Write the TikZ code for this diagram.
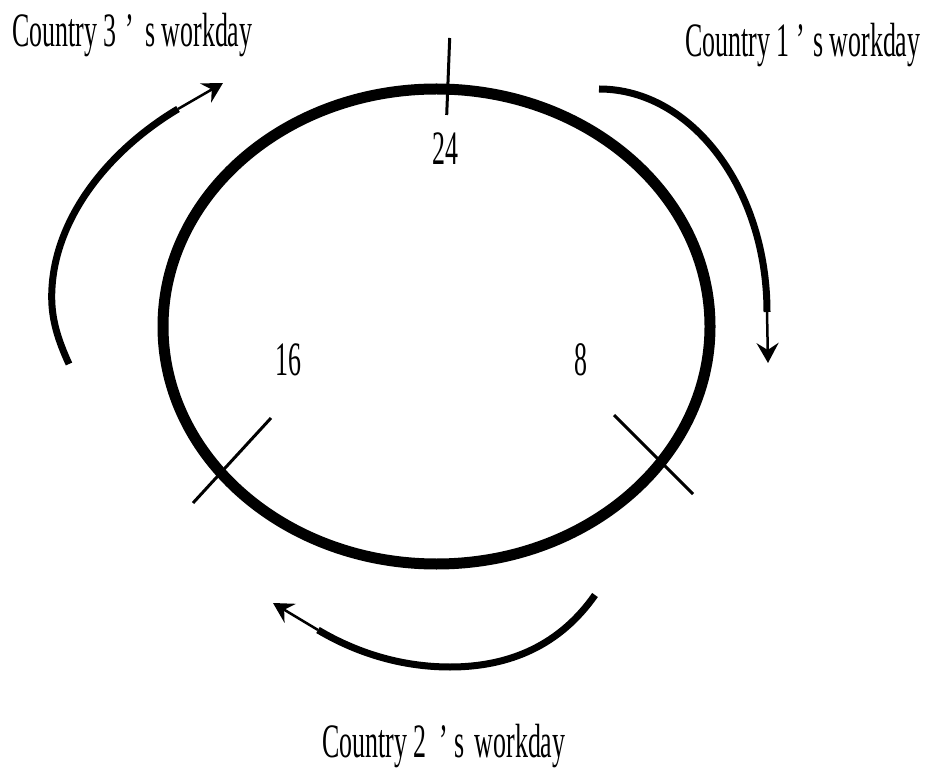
\documentclass[tikz,border=0pt]{standalone}
\usepackage{fontspec}
\setmainfont[FakeStretch=0.54]{Liberation Serif}
\usetikzlibrary{arrows.meta}
\begin{document}
\begin{tikzpicture}[x=1pt,y=1pt,
  ring/.style={line width=11pt},
  tickline/.style={line width=3pt},
  bigarc/.style={line width=7pt},
  thinarrow/.style={line width=2.5pt,-{Stealth[length=20pt,width=22pt,inset=7pt]}},
  lbl/.style={font=\fontsize{48}{54}\selectfont, inner sep=0pt}]
\useasboundingbox (0,0) rectangle (926,-775);
% clock ring
\draw[ring] (436.5,-326.5) ellipse[x radius=273.5, y radius=237.5];
% ticks
\coordinate (t24a) at (449.7,-38);  \coordinate (t24b) at (446.7,-115);
\coordinate (t16a) at (193,-503);   \coordinate (t16b) at (271,-418);
\coordinate (t8a)  at (614,-415);   \coordinate (t8b)  at (693,-494);
\draw[tickline] (t24a) -- (t24b);
\draw[tickline] (t16a) -- (t16b);
\draw[tickline] (t8a) -- (t8b);
% hour labels
\node[lbl] (h24) at (445.5,-149) {24};
\node[lbl] (h16) at (288,-360) {16};
\node[lbl] (h8)  at (581,-360) {8};
% country 1 arc
\coordinate (c1s) at (599,-89);
\coordinate (c1m) at (767,-312);
\coordinate (c1e) at (768,-363);
\draw[bigarc] (c1s) arc[start angle=90, end angle=0, x radius=168, y radius=223];
\draw[thinarrow] (c1m) -- (c1e);
% country 3 arc
\coordinate (c3s) at (69,-364);
\coordinate (c3l) at (51.7,-297);
\coordinate (c3m) at (178,-109);
\coordinate (c3e) at (223,-83);
\draw[bigarc] (c3s) .. controls (58,-340) and (51.7,-320) .. (c3l)
  .. controls (51.7,-222) and (106,-152) .. (c3m);
\draw[thinarrow] (c3m) -- (c3e);
% country 2 arc
\coordinate (c2s) at (595,-595);
\coordinate (c2b) at (450,-667);
\coordinate (c2m) at (318,-630);
\coordinate (c2e) at (273,-603);
\draw[bigarc] (c2s) .. controls (560,-645) and (510,-667) .. (c2b)
  .. controls (400,-667) and (355,-652) .. (c2m);
\draw[thinarrow] (c2m) -- (c2e);
% captions
\node[lbl, anchor=base west] (cap3) at (12,-47) {Country 3\hspace{2pt} ’\hspace{5pt} s workday};
\node[lbl, anchor=base west] (cap1) at (685,-57) {Country 1 ’\hspace{2pt} s workday};
\node[lbl, anchor=base west] (cap2) at (322,-757) {Country 2\hspace{6pt} ’ s\hspace{4pt} workday};
\end{tikzpicture}
\end{document}
